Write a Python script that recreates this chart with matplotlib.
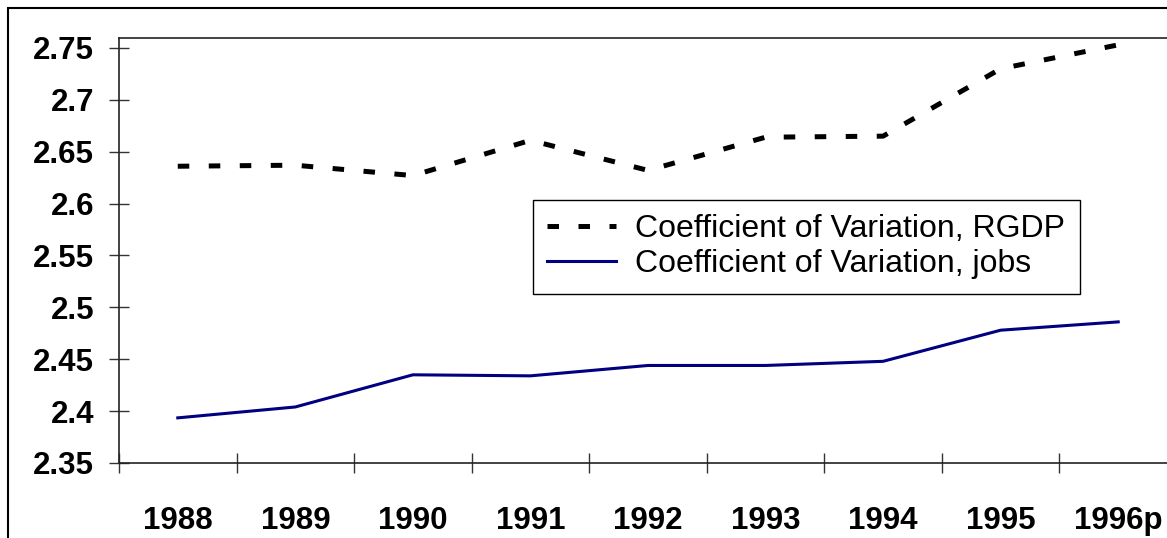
import matplotlib.pyplot as plt
import matplotlib.patches as mpatches
import numpy as np

plt.rcParams['font.family'] = ['Liberation Sans', 'DejaVu Sans']

# DATA
years = ['1988', '1989', '1990', '1991', '1992', '1993', '1994', '1995', '1996p']
cv_rgdp = [2.636, 2.637, 2.627, 2.661, 2.632, 2.664, 2.665, 2.730, 2.753]
cv_jobs = [2.3935, 2.404, 2.435, 2.434, 2.444, 2.444, 2.448, 2.478, 2.486]
y_ticks = [2.35, 2.4, 2.45, 2.5, 2.55, 2.6, 2.65, 2.7, 2.75]
y_labels = ['2.35', '2.4', '2.45', '2.5', '2.55', '2.6', '2.65', '2.7', '2.75']

fig = plt.figure(figsize=(11.67, 5.38), dpi=100)
W, H = 1167, 538

# outer chart frame (cropped at right and bottom like the source)
fig.patches.append(mpatches.Rectangle((8 / W, -0.1), 1.2, 1 - 8 / H + 0.1,
                                      transform=fig.transFigure, fill=False,
                                      edgecolor='black', linewidth=1.5))

ax = fig.add_axes([119 / W, 1 - 463 / H, (1177 - 119) / W, (463 - 38) / H])

x = np.arange(len(years))
ax.plot(x, cv_rgdp, color='black', linewidth=3.6, dashes=(2.3, 3.9),
        dash_capstyle='butt', label='Coefficient of Variation, RGDP')
ax.plot(x, cv_jobs, color='#000080', linewidth=2.2,
        label='Coefficient of Variation, jobs')

ax.set_xlim(-0.5, len(years) - 0.5)
ax.set_ylim(2.35, 2.7596)

# category axis: tick marks between categories, labels centred
ax.set_xticks(np.arange(-0.5, len(years), 1.0))
ax.set_xticklabels([])
ax.set_xticks(x, minor=True)
ax.set_xticklabels(years, minor=True, fontsize=22.5, fontweight='bold')
ax.tick_params(axis='x', which='major', direction='inout', length=14, width=1, color='#333333')
ax.tick_params(axis='x', which='minor', length=0, pad=31)

ax.set_yticks(y_ticks)
ax.set_yticklabels(y_labels, fontsize=22.5, fontweight='bold')
ax.tick_params(axis='y', direction='inout', length=14, width=1, color='#333333', pad=11)

for s in ax.spines.values():
    s.set_color('#222222')
    s.set_linewidth(1.2)

leg = ax.legend(loc='upper left', bbox_to_anchor=(533 / W, 1 - 200 / H),
                bbox_transform=fig.transFigure, fontsize=23, frameon=True,
                fancybox=False, edgecolor='black', framealpha=1,
                handlelength=2.15, handletextpad=0.6, borderpad=0.45,
                labelspacing=0.15, borderaxespad=0)
leg.get_frame().set_linewidth(1.0)

fig.savefig('out.png', dpi=100)
